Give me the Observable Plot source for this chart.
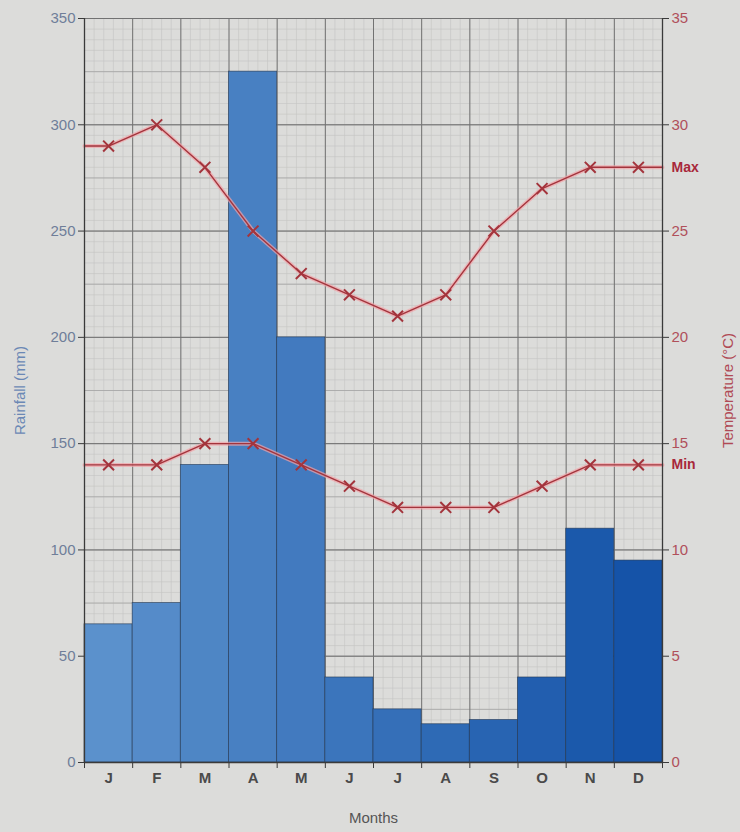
<!DOCTYPE html>
<html>
<head>
<meta charset="utf-8">
<script src="https://cdn.jsdelivr.net/npm/d3@7"></script>
<script src="https://cdn.jsdelivr.net/npm/@observablehq/plot@0.6"></script>
<style>
  html, body { margin: 0; padding: 0; background: #dcdcda; }
  #chart svg { display: block; }
</style>
</head>
<body>
<div id="chart"></div>
<script>
// ---- data ----
const months = ["J", "F", "M", "A", "M", "J", "J", "A", "S", "O", "N", "D"];
const rainfall = [65, 75, 140, 325, 200, 40, 25, 18, 20, 40, 110, 95];   // mm
const maxTemp = [29, 30, 28, 25, 23, 22, 21, 22, 25, 27, 28, 28];        // °C
const minTemp = [14, 14, 15, 15, 14, 13, 12, 12, 12, 13, 14, 14];        // °C
const rainTicks = [0, 50, 100, 150, 200, 250, 300, 350];

// ---- derived tables ----
const bars = months.map((m, i) => ({i, m, rain: rainfall[i]}));
const tempPts = (arr) => arr.map((t, i) => ({x: i, y: t * 10}));
const tempLine = (arr) => [{x: -0.5, y: arr[0] * 10}, ...tempPts(arr), {x: 11.5, y: arr[arr.length - 1] * 10}];

const fineY = d3.range(0, 351, 5);
const medY = d3.range(0, 351, 25);
const majY = d3.range(0, 351, 50);
const fineX = d3.range(-0.5, 11.51, 0.2);
const majX = d3.range(-0.5, 11.51, 1);

const lineColor = "#a3343c";
const haloColor = "#f2a2a8";

const chart = Plot.plot({
  width: 740,
  height: 832,
  marginLeft: 84,
  marginRight: 78,
  marginTop: 18,
  marginBottom: 70,
  style: {background: "transparent", fontFamily: "'Liberation Sans', Arial, sans-serif"},
  x: {type: "linear", domain: [-0.5, 11.5], axis: null},
  y: {domain: [0, 350], axis: null},
  color: {type: "linear", domain: [0, 11], range: ["#5b91cc", "#1553a8"]},
  marks: [
    // graph paper
    Plot.ruleY(fineY, {stroke: "#c4c4c3", strokeWidth: 0.6}),
    Plot.ruleX(fineX, {stroke: "#c4c4c3", strokeWidth: 0.6}),
    Plot.ruleY(medY, {stroke: "#a4a4a4", strokeWidth: 0.8}),
    Plot.ruleY(majY, {stroke: "#727272", strokeWidth: 1}),
    Plot.ruleX(majX, {stroke: "#727272", strokeWidth: 1}),
    // rainfall bars
    Plot.rectY(bars, {x1: d => d.i - 0.5, x2: d => d.i + 0.5, y: "rain", fill: "i", stroke: "#23364f", strokeWidth: 0.8, strokeOpacity: 0.7}),
    // temperature lines (halo + line)
    Plot.line(tempLine(maxTemp), {x: "x", y: "y", stroke: haloColor, strokeWidth: 4, strokeOpacity: 0.7}),
    Plot.line(tempLine(minTemp), {x: "x", y: "y", stroke: haloColor, strokeWidth: 4, strokeOpacity: 0.7}),
    Plot.line(tempLine(maxTemp), {x: "x", y: "y", stroke: lineColor, strokeWidth: 1.4}),
    Plot.line(tempLine(minTemp), {x: "x", y: "y", stroke: lineColor, strokeWidth: 1.4}),
    Plot.dot(tempPts(maxTemp), {x: "x", y: "y", symbol: "times", r: 5, stroke: lineColor, strokeWidth: 2}),
    Plot.dot(tempPts(minTemp), {x: "x", y: "y", symbol: "times", r: 5, stroke: lineColor, strokeWidth: 2}),
    // Max / Min labels
    Plot.text([{x: 11.5, y: maxTemp[11] * 10, t: "Max"}], {x: "x", y: "y", text: "t", dx: 9, textAnchor: "start", fill: "#a8283a", fontWeight: "bold", fontSize: 14}),
    Plot.text([{x: 11.5, y: minTemp[11] * 10, t: "Min"}], {x: "x", y: "y", text: "t", dx: 9, textAnchor: "start", fill: "#a8283a", fontWeight: "bold", fontSize: 14}),
    // axis frame lines
    Plot.ruleX([-0.5, 11.5], {stroke: "#3a3a3a", strokeWidth: 1.3}),
    Plot.ruleY([0], {stroke: "#3a3a3a", strokeWidth: 1.3}),
    // left axis (rainfall)
    Plot.axisY({anchor: "left", ticks: rainTicks, tickSize: 6, tickPadding: 3, stroke: "#3a3a3a", fill: "#6f7e99", fontSize: 15, label: null}),
    // right axis (temperature, °C = mm/10)
    Plot.axisY({anchor: "right", ticks: rainTicks, tickFormat: d => d / 10, tickSize: 6, tickPadding: 3, stroke: "#3a3a3a", fill: "#b0505a", fontSize: 15, label: null}),
    // month boundary ticks
    Plot.axisX({ticks: majX, tickSize: 6, tickFormat: () => "", stroke: "#3a3a3a", label: null}),
    // month labels
    Plot.axisX({ticks: d3.range(0, 12), tickSize: 0, tickPadding: 10, tickFormat: i => months[i], fill: "#4a4a4a", fontSize: 15, fontWeight: "bold", label: null}),
    // axis titles
    Plot.text(["Rainfall (mm)"], {frameAnchor: "left", dx: -64, rotate: -90, textAnchor: "middle", fill: "#6b88b5", fontSize: 15}),
    Plot.text(["Temperature (°C)"], {frameAnchor: "right", dx: 66, rotate: -90, textAnchor: "middle", fill: "#b04a55", fontSize: 15}),
    Plot.text(["Months"], {frameAnchor: "bottom", dy: 60, fill: "#555555", fontSize: 15}),
  ]
});

document.getElementById("chart").appendChild(chart);
</script>
</body>
</html>
